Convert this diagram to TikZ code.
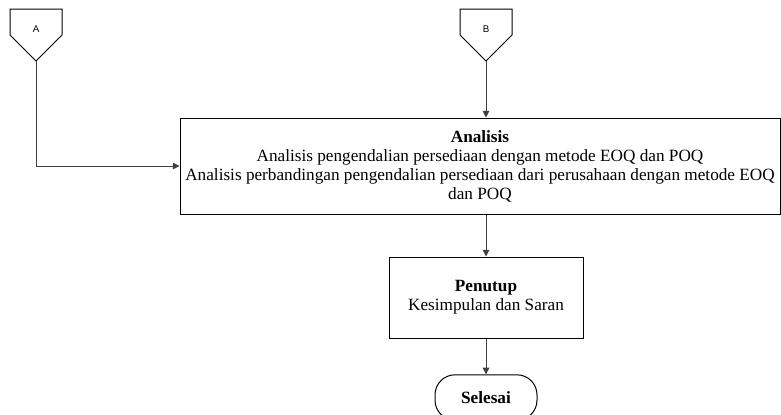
\documentclass[tikz,border=0pt]{standalone}
\usepackage{fontspec}
\setmainfont{Liberation Serif}
\newfontfamily\labelfont{Liberation Sans}
\usetikzlibrary{arrows.meta,positioning}

\begin{document}
\begin{tikzpicture}[
    x=0.75pt, y=-0.75pt,
    line width=0.75pt,
    process/.style={draw, rectangle, align=center,
      font=\fontsize{12.9}{14.25}\selectfont},
    terminal/.style={draw, rectangle, rounded corners=15pt,
      minimum width=76.5pt, minimum height=34pt,
      font=\fontsize{12.9}{14.25}\selectfont\bfseries},
    offpage/.style={font=\labelfont\fontsize{7.3}{8}\selectfont},
    flow/.style={draw=black!75, -{Triangle[length=5pt,width=5pt]}}
  ]

    % Canvas
    \useasboundingbox (0,0) rectangle (781,414);

    % Off-page connectors
    \foreach \cx/\nm in {36/A,486/B}
    \draw (\cx-26,9) -- (\cx+26,9) -- (\cx+26,35) -- (\cx,61)
      -- (\cx-26,35) -- cycle;
    \node[offpage] (labA) at (36,29) {A};
    \node[offpage] (labB) at (486,29) {B};
    \coordinate (tipA) at (36,61);
    \coordinate (tipB) at (486,61);

    % Process boxes
    \node[process, minimum width=450pt, minimum height=72pt]
      (analisis) at (480,166)
      {\textbf{Analisis}\\
       Analisis pengendalian persediaan dengan metode EOQ dan POQ\\
       Analisis perbandingan pengendalian persediaan dari perusahaan dengan metode EOQ\\
       dan POQ};
    \node[process, minimum width=145.5pt, minimum height=60.75pt]
      (penutup) at (486,297.5)
      {\textbf{Penutup}\\ Kesimpulan dan Saran};

    % End
    \node[terminal] (selesai) at (486,397.5) {Selesai};

    % Connectors
    \draw[flow] (tipA) |- (analisis.west);
    \draw[flow] (tipB) -- (tipB |- analisis.north);
    \draw[flow] (analisis.south -| penutup.north) -- (penutup.north);
    \draw[flow] (penutup.south) -- (selesai.north);

  \end{tikzpicture}
\end{document}
